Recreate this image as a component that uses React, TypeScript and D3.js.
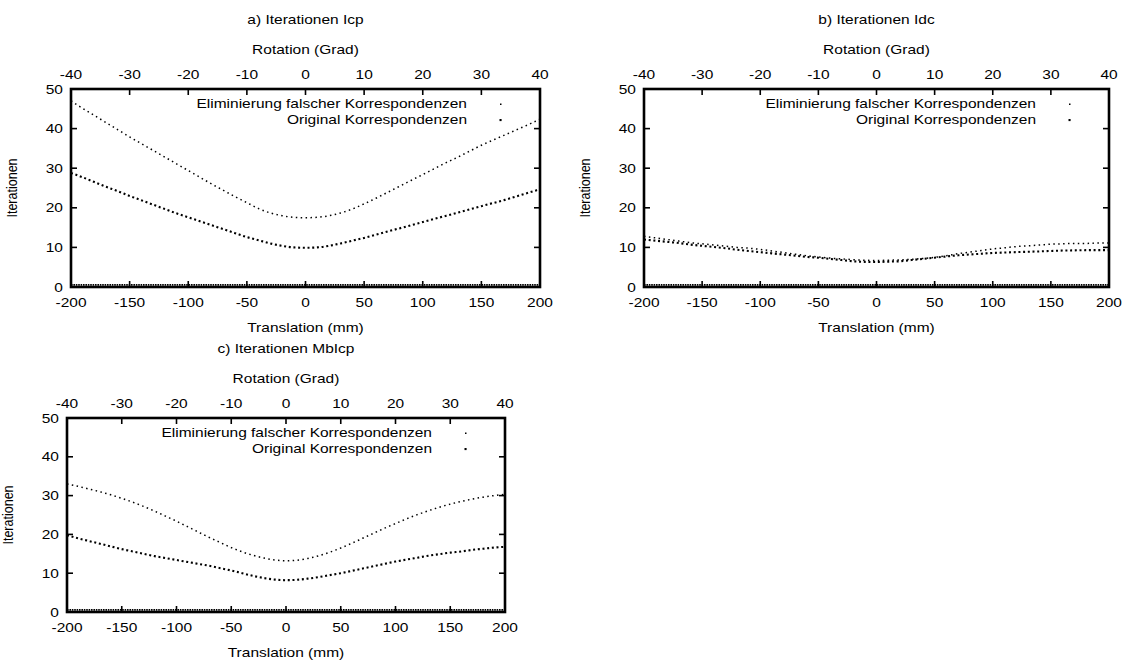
import React from "react";
import * as d3 from "d3";

// ---------- data ----------
const translation = [
  -200, -190, -180, -170, -160, -150, -140, -130, -120, -110, -100, -90, -80, -70, -60, -50, -40, -30, -20, -10,
  0, 10, 20, 30, 40, 50, 60, 70, 80, 90, 100, 110, 120, 130, 140, 150, 160, 170, 180, 190, 200,
];
const translationTicks = [-200, -150, -100, -50, 0, 50, 100, 150, 200];
const rotationTicks = [-40, -30, -20, -10, 0, 10, 20, 30, 40];
const iterationTicks = [0, 10, 20, 30, 40, 50];

const seriesNames = ["Eliminierung falscher Korrespondenzen", "Original Korrespondenzen"];
const panelTitles = ["a) Iterationen Icp", "b) Iterationen Idc", "c) Iterationen MbIcp"];

// a) Icp
const icpElim = [
  47.0, 45.1, 43.3, 41.5, 39.7, 37.9, 36.2, 34.5, 32.8, 31.1, 29.4, 27.7, 26.0, 24.4, 22.8, 21.3, 19.8, 18.7, 18.0, 17.6,
  17.5, 17.6, 18.0, 18.7, 19.7, 21.0, 22.4, 23.9, 25.4, 26.9, 28.4, 29.9, 31.4, 32.8, 34.3, 35.8, 37.1, 38.4, 39.7, 41.0, 42.4,
];
const icpOrig = [
  28.8, 27.7, 26.5, 25.3, 24.2, 23.0, 21.9, 20.8, 19.7, 18.6, 17.6, 16.6, 15.6, 14.6, 13.6, 12.6, 11.8, 11.0, 10.4, 10.0,
  9.9, 10.0, 10.4, 11.0, 11.7, 12.4, 13.2, 14.0, 14.8, 15.6, 16.4, 17.2, 18.0, 18.8, 19.6, 20.4, 21.2, 22.0, 22.9, 23.8, 24.7,
];
// b) Idc
const idcElim = [
  12.8, 12.4, 12.0, 11.6, 11.2, 10.9, 10.6, 10.3, 10.0, 9.8, 9.5, 9.1, 8.7, 8.3, 7.9, 7.6, 7.3, 7.1, 6.9, 6.75,
  6.7, 6.75, 6.85, 7.0, 7.2, 7.5, 7.9, 8.4, 8.8, 9.2, 9.6, 9.9, 10.2, 10.4, 10.6, 10.8, 10.9, 11.0, 11.0, 11.1, 11.1,
];
const idcOrig = [
  12.0, 11.7, 11.4, 11.1, 10.7, 10.4, 10.1, 9.8, 9.4, 9.1, 8.8, 8.5, 8.2, 7.9, 7.6, 7.4, 7.1, 6.8, 6.5, 6.35,
  6.3, 6.4, 6.5, 6.8, 7.1, 7.4, 7.7, 8.0, 8.2, 8.4, 8.6, 8.7, 8.8, 8.9, 9.0, 9.1, 9.2, 9.25, 9.3, 9.3, 9.3,
];
// c) MbIcp
const mbIcpElim = [
  33.0, 32.4, 31.7, 31.0, 30.2, 29.3, 28.3, 27.2, 26.0, 24.7, 23.4, 22.0, 20.6, 19.2, 17.9, 16.6, 15.5, 14.6, 13.9, 13.4,
  13.2, 13.35, 13.8, 14.5, 15.4, 16.5, 17.7, 19.0, 20.3, 21.6, 22.8, 24.0, 25.1, 26.1, 27.0, 27.8, 28.5, 29.1, 29.6, 30.0, 30.3,
];
const mbIcpOrig = [
  19.8, 19.0, 18.3, 17.6, 16.9, 16.2, 15.6, 15.0, 14.4, 13.9, 13.4, 12.9, 12.4, 11.9, 11.3, 10.7, 10.0, 9.3, 8.75, 8.35,
  8.2, 8.3, 8.6, 9.0, 9.5, 10.0, 10.6, 11.2, 11.8, 12.4, 13.0, 13.5, 14.0, 14.5, 14.9, 15.3, 15.6, 16.0, 16.3, 16.6, 16.8,
];

// ---------- styling ----------
const FONT = "'Liberation Sans', Arial, Helvetica, sans-serif";
const FS = 12.5;
const SX = 1.24;

type TProps = { x: number; y: number; anchor?: "start" | "middle" | "end"; children: React.ReactNode; rotate?: boolean };
function T({ x, y, anchor = "middle", children, rotate }: TProps) {
  const tr = rotate ? `translate(${x},${y}) rotate(-90) scale(1,${SX})` : `translate(${x},${y}) scale(${SX},1)`;
  return (
    <text transform={tr} textAnchor={anchor} fontFamily={FONT} fontSize={FS} fill="#000">
      {children}
    </text>
  );
}

type PanelProps = {
  left: number; right: number; top: number; bottom: number;
  title: string; elim: number[]; orig: number[];
};

function Panel({ left, right, top, bottom, title, elim, orig }: PanelProps) {
  const x = d3.scaleLinear().domain([-200, 200]).range([left, right]);
  const xr = d3.scaleLinear().domain([-40, 40]).range([left, right]);
  const y = d3.scaleLinear().domain([0, 50]).range([bottom, top]);
  const line = d3
    .line<number>()
    .x((_, i) => x(translation[i]))
    .y((d) => y(d))
    .curve(d3.curveMonotoneX);
  const tick = 6;
  const cx = (left + right) / 2;
  const cy = (top + bottom) / 2;
  return (
    <g>
      <T x={cx} y={top - 65}>{title}</T>
      <T x={cx} y={top - 35}>Rotation (Grad)</T>
      {rotationTicks.map((t) => (
        <T key={"r" + t} x={xr(t)} y={top - 10}>{t}</T>
      ))}
      {translationTicks.map((t) => (
        <T key={"t" + t} x={x(t)} y={bottom + 20}>{t}</T>
      ))}
      <T x={cx} y={bottom + 45}>Translation (mm)</T>
      {iterationTicks.map((t) => (
        <T key={"i" + t} x={left - 8} y={y(t) + 4.5} anchor="end">{t}</T>
      ))}
      <T x={left - 54} y={cy} rotate>Iterationen</T>

      {/* ticks */}
      <g stroke="#000" strokeWidth={1.6}>
        {translationTicks.slice(1, -1).map((t) => (
          <line key={"bt" + t} x1={x(t)} x2={x(t)} y1={bottom} y2={bottom - tick} />
        ))}
        {rotationTicks.slice(1, -1).map((t) => (
          <line key={"tt" + t} x1={xr(t)} x2={xr(t)} y1={top} y2={top + tick} />
        ))}
        {iterationTicks.slice(1, -1).map((t) => (
          <g key={"yt" + t}>
            <line x1={left} x2={left + tick} y1={y(t)} y2={y(t)} />
            <line x1={right} x2={right - tick} y1={y(t)} y2={y(t)} />
          </g>
        ))}
      </g>

      {/* zero row */}
      <line x1={x(-200)} x2={x(200)} y1={y(0) - 2.2} y2={y(0) - 2.2} stroke="#000" strokeWidth={1.8} strokeDasharray="1.6 0.8" />

      {/* series */}
      <path d={line(elim) || ""} fill="none" stroke="#000" strokeWidth={1.5} strokeDasharray="1.5 3.4" />
      <path d={line(orig) || ""} fill="none" stroke="#000" strokeWidth={2.1} strokeDasharray="2 2.7" />

      {/* legend */}
      <T x={right - 73} y={top + 19} anchor="end">{seriesNames[0]}</T>
      <T x={right - 73} y={top + 35} anchor="end">{seriesNames[1]}</T>
      <rect x={right - 40} y={top + 14.5} width={1.5} height={1.5} fill="#000" />
      <rect x={right - 40.5} y={top + 30} width={2.1} height={2.1} fill="#000" />

      {/* frame */}
      <rect x={left} y={top} width={right - left} height={bottom - top} fill="none" stroke="#000" strokeWidth={2.6} />
    </g>
  );
}

export default function App() {
  return (
    <svg width={1139} height={664} style={{ position: "absolute", left: 0, top: 0, background: "#fff" }}>
      <rect width={1139} height={664} fill="#fff" />
      <Panel left={71} right={540} top={89} bottom={287} title={panelTitles[0]} elim={icpElim} orig={icpOrig} />
      <Panel left={644} right={1109} top={89} bottom={287} title={panelTitles[1]} elim={idcElim} orig={idcOrig} />
      <Panel left={67} right={505} top={418} bottom={612} title={panelTitles[2]} elim={mbIcpElim} orig={mbIcpOrig} />
    </svg>
  );
}
